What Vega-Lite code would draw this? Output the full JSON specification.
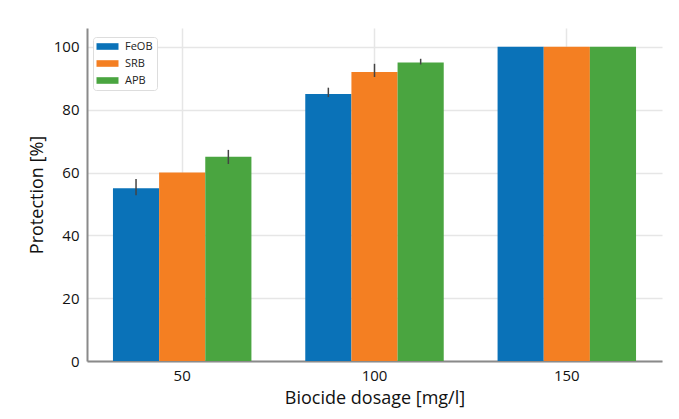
{
  "$schema": "https://vega.github.io/schema/vega-lite/v6.json",
  "width": 575,
  "height": 333,
  "autosize": {"type": "none"},
  "padding": {"left": 87, "top": 28, "right": 17, "bottom": 58},
  "background": "white",
  "config": {
    "font": "Open Sans",
    "view": {"stroke": null},
    "axis": {
      "domainColor": "#8a8a8a",
      "domainWidth": 2,
      "ticks": false,
      "gridColor": "#e6e6e6",
      "gridWidth": 1.5,
      "labelFont": "Open Sans",
      "labelFontSize": 15,
      "labelColor": "#111",
      "titleFont": "Open Sans",
      "titleFontSize": 18,
      "titleFontWeight": "normal",
      "titleColor": "#111"
    }
  },
  "data": {
    "values": [
      {"dosage": "50", "group": "FeOB", "value": 55, "lo": 52.8, "hi": 57.9},
      {"dosage": "50", "group": "SRB", "value": 60, "lo": 60, "hi": 60},
      {"dosage": "50", "group": "APB", "value": 65, "lo": 62.7, "hi": 67.2},
      {"dosage": "100", "group": "FeOB", "value": 85, "lo": 84, "hi": 87},
      {"dosage": "100", "group": "SRB", "value": 92, "lo": 90.4, "hi": 94.6},
      {"dosage": "100", "group": "APB", "value": 95, "lo": 94.4, "hi": 96.2},
      {"dosage": "150", "group": "FeOB", "value": 100, "lo": 100, "hi": 100},
      {"dosage": "150", "group": "SRB", "value": 100, "lo": 100, "hi": 100},
      {"dosage": "150", "group": "APB", "value": 100, "lo": 100, "hi": 100}
    ]
  },
  "encoding": {
    "x": {
      "field": "dosage",
      "type": "ordinal",
      "sort": ["50", "100", "150"],
      "scale": {"paddingInner": 0.28, "paddingOuter": 0.135},
      "axis": {"labelAngle": 0, "labelPadding": 7, "title": "Biocide dosage [mg/l]", "titlePadding": 6, "grid": true}
    },
    "xOffset": {"field": "group", "type": "nominal", "sort": ["FeOB", "SRB", "APB"]}
  },
  "layer": [
    {
      "mark": {"type": "bar"},
      "encoding": {
        "y": {
          "field": "value",
          "type": "quantitative",
          "scale": {"domain": [0, 106], "nice": false},
          "axis": {"values": [0, 20, 40, 60, 80, 100], "title": "Protection [%]", "labelPadding": 8, "titlePadding": 7}
        },
        "color": {
          "field": "group",
          "type": "nominal",
          "sort": ["FeOB", "SRB", "APB"],
          "scale": {"domain": ["FeOB", "SRB", "APB"], "range": ["#0a72b8", "#f47f22", "#4aa540"]},
          "legend": {
            "title": null,
            "orient": "none",
            "legendX": 6,
            "legendY": 9,
            "symbolType": "M-2,-0.6H2V0.6H-2Z",
            "symbolSize": 121,
            "symbolStrokeWidth": 0,
            "symbolOffset": 5,
            "labelFontSize": 11,
            "labelColor": "#222",
            "labelOffset": 12,
            "rowPadding": 5,
            "padding": 4,
            "fillColor": "white",
            "strokeColor": "#dddddd",
            "cornerRadius": 3
          }
        }
      }
    },
    {
      "mark": {"type": "rule", "color": "#444", "strokeWidth": 1.5},
      "encoding": {
        "y": {"field": "lo", "type": "quantitative"},
        "y2": {"field": "hi"}
      }
    }
  ]
}
